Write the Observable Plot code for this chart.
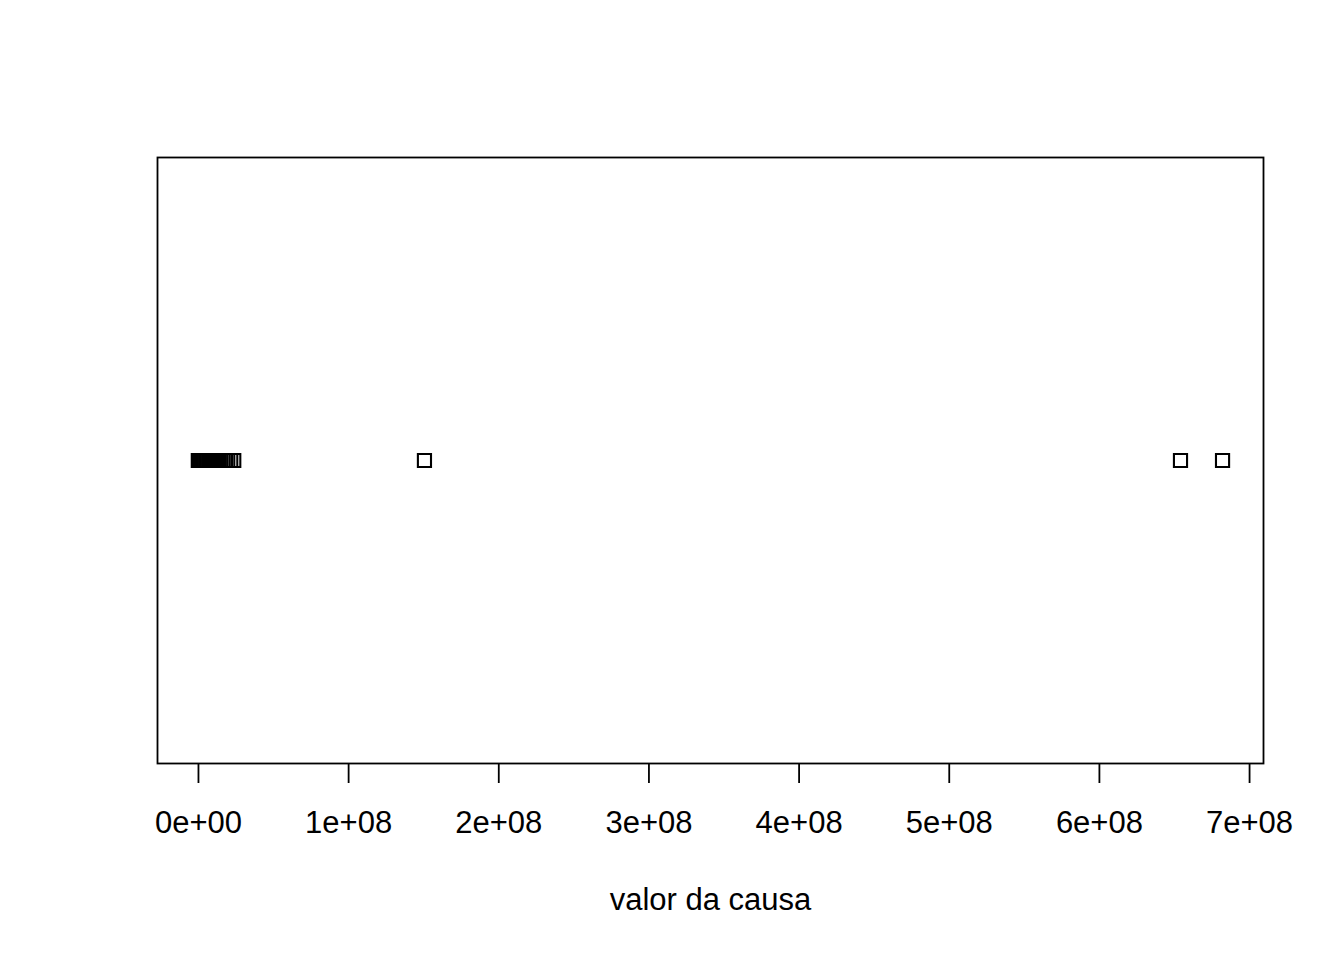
<!DOCTYPE html>
<html>
<head>
<meta charset="utf-8">
<script src="https://cdn.jsdelivr.net/npm/d3@7"></script>
<script src="https://cdn.jsdelivr.net/npm/@observablehq/plot@0.6"></script>
<style>
  html, body { margin: 0; padding: 0; background: #fff; }
  #chart svg { display: block; }
</style>
</head>
<body>
<div id="chart"></div>
<script>
// valor da causa (R$)
const valores = [
  0, 0, 100000, 200000, 300000, 500000, 800000, 1000000, 1200000, 1500000,
  2000000, 2500000, 3000000, 3500000, 4000000, 5000000, 6000000, 7000000,
  8000000, 9000000, 10000000, 12000000, 13500000, 15000000, 16500000,
  18000000, 19500000, 21500000, 23500000,
  150500000, 654000000, 682000000
];
const tickValues = [0, 1e8, 2e8, 3e8, 4e8, 5e8, 6e8, 7e8];
const tickLabels = ["0e+00", "1e+08", "2e+08", "3e+08", "4e+08", "5e+08", "6e+08", "7e+08"];
const xLabel = "valor da causa";

const lo = d3.min(valores), hi = d3.max(valores);
const pad = (hi - lo) * 0.04;

const data = valores.map(v => ({valor: v, grupo: 1}));

const chart = Plot.plot({
  width: 1344,
  height: 960,
  marginLeft: 157,
  marginRight: 81,
  marginTop: 157,
  marginBottom: 197,
  style: {fontFamily: "'Liberation Sans', Arial, sans-serif", fontSize: "31px", color: "#000", background: "#fff"},
  x: {domain: [lo - pad, hi + pad]},
  y: {domain: [0.6, 1.4], axis: null},
  marks: [
    Plot.frame({stroke: "#000", strokeWidth: 1.8}),
    Plot.axisX({
      ticks: tickValues,
      tickFormat: (d) => tickLabels[tickValues.indexOf(d)],
      tickSize: 20,
      tickPadding: 27,
      strokeWidth: 1.8,
      fontSize: 31,
      label: null
    }),
    Plot.text([xLabel], {frameAnchor: "bottom", dy: 146, fontSize: 31, fill: "#000"}),
    Plot.dot(data, {x: "valor", y: "grupo", symbol: "square", r: 7.4, stroke: "#000", strokeWidth: 2.1, fill: "none"})
  ]
});
document.getElementById("chart").appendChild(chart);
</script>
</body>
</html>
